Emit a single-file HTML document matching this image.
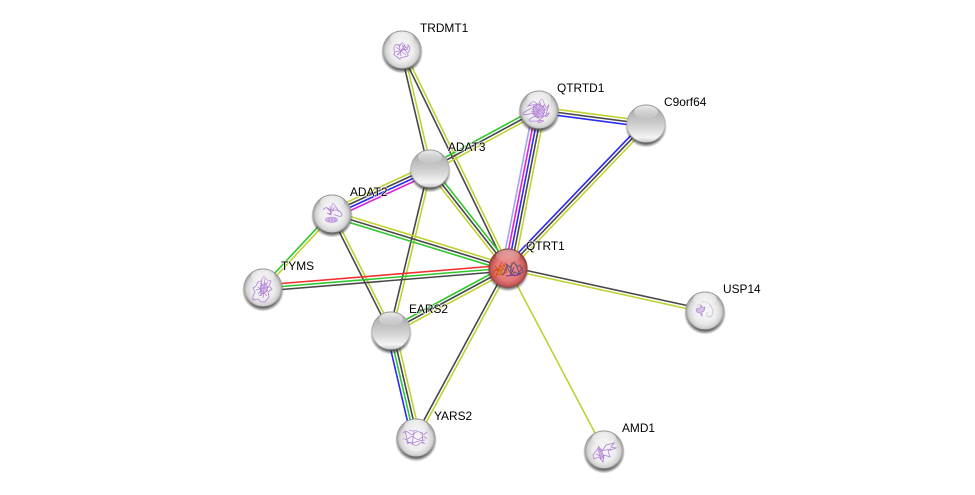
<!DOCTYPE html>
<html>
<head>
<meta charset="utf-8">
<style>
html,body{margin:0;padding:0;background:#fff;width:975px;height:495px;overflow:hidden}
svg{display:block}
text{font-family:"Liberation Sans",Arial,sans-serif;font-size:11.9px;fill:#000;paint-order:stroke;stroke:rgba(255,255,255,.7);stroke-width:1.6px;stroke-linejoin:round}
.k{stroke:#484848}.y{stroke:#c0d231}.g{stroke:#2fc72f}.b{stroke:#2a2af0}.m{stroke:#e020d8}.l{stroke:#a4a4f4}.r{stroke:#f53030}
#e line{stroke-width:1.6;fill:none}
.p{fill:none;stroke:#b080d4;stroke-width:.8;filter:url(#bl)}
.f{fill:#c49ce0;fill-opacity:.6;stroke:#a878cc;stroke-width:.6;filter:url(#bl)}
</style>
</head>
<body>
<svg width="975" height="495" viewBox="0 0 975 495" xmlns="http://www.w3.org/2000/svg">
<defs>
<filter id="bl" x="-20%" y="-20%" width="140%" height="140%"><feGaussianBlur stdDeviation=".3"/></filter>
<radialGradient id="gw" cx="50%" cy="52%" r="52%">
<stop offset="0" stop-color="#f8f8f8"/><stop offset=".55" stop-color="#ededed"/><stop offset=".8" stop-color="#d4d4d4"/><stop offset=".93" stop-color="#a4a4a4"/><stop offset="1" stop-color="#777"/>
</radialGradient>
<linearGradient id="ge" x1="0" y1="0" x2="0" y2="1">
<stop offset="0" stop-color="#9a9a9a"/><stop offset=".3" stop-color="#bcbcbc"/><stop offset=".55" stop-color="#d2d2d2"/><stop offset=".85" stop-color="#f4f4f4"/><stop offset=".95" stop-color="#cfcfcf"/><stop offset="1" stop-color="#888"/>
</linearGradient>
<radialGradient id="gr" cx="50%" cy="52%" r="52%">
<stop offset="0" stop-color="#ef9090"/><stop offset=".6" stop-color="#e27878"/><stop offset=".82" stop-color="#c85a5a"/><stop offset=".94" stop-color="#9c3c3c"/><stop offset="1" stop-color="#702222"/>
</radialGradient>
<linearGradient id="hl" x1="0" y1="0" x2="0" y2="1">
<stop offset="0" stop-color="#fff" stop-opacity=".8"/><stop offset="1" stop-color="#fff" stop-opacity=".05"/>
</linearGradient>
<linearGradient id="rim" x1="0" y1="0" x2="0" y2="1">
<stop offset="0" stop-color="#999"/><stop offset=".6" stop-color="#aaa" stop-opacity=".5"/><stop offset="1" stop-color="#666"/>
</linearGradient>
<radialGradient id="sh" cx="50%" cy="50%" r="50%">
<stop offset=".82" stop-color="#222" stop-opacity=".7"/><stop offset="1" stop-color="#333" stop-opacity="0"/>
</radialGradient>
<g id="w">
<circle cx="0" cy="2.5" r="21" fill="url(#sh)"/>
<circle r="19.5" fill="url(#gw)"/>
<circle r="19" fill="none" stroke="url(#rim)" stroke-width="1"/>
</g>
<g id="h"><ellipse cx="0" cy="-12" rx="12" ry="6.5" fill="url(#hl)"/></g>
<g id="n">
<circle cx="0" cy="2.5" r="21" fill="url(#sh)"/>
<circle r="19.5" fill="url(#ge)"/>
<circle r="19" fill="none" stroke="url(#rim)" stroke-width="1"/>
<ellipse cx="0" cy="-12" rx="12" ry="6.5" fill="url(#hl)"/>
</g>
</defs>

<g id="e">
<line class="k" x1="400.5" y1="50.3" x2="428.5" y2="169.3"/>
<line class="y" x1="403.5" y1="49.7" x2="431.5" y2="168.7"/>
<line class="k" x1="400.65" y1="50.66" x2="506.65" y2="268.66"/>
<line class="y" x1="403.35" y1="49.34" x2="509.35" y2="267.34"/>
<line class="g" x1="428.57" y1="166.36" x2="537.57" y2="107.36"/>
<line class="k" x1="430" y1="169" x2="539" y2="110"/>
<line class="y" x1="431.43" y1="171.64" x2="540.43" y2="112.64"/>
<line class="y" x1="539.39" y1="107.03" x2="646.39" y2="121.03"/>
<line class="k" x1="539" y1="110" x2="646" y2="124"/>
<line class="b" x1="538.61" y1="112.97" x2="645.61" y2="126.97"/>
<line class="b" x1="643.83" y1="121.92" x2="505.83" y2="265.92"/>
<line class="k" x1="646" y1="124" x2="508" y2="268"/>
<line class="y" x1="648.17" y1="126.08" x2="510.17" y2="270.08"/>
<line class="l" x1="533.11" y1="108.84" x2="502.11" y2="266.84"/>
<line class="m" x1="536.06" y1="109.42" x2="505.06" y2="267.42"/>
<line class="b" x1="539" y1="110" x2="508" y2="268"/>
<line class="k" x1="541.94" y1="110.58" x2="510.94" y2="268.58"/>
<line class="y" x1="544.89" y1="111.16" x2="513.89" y2="269.16"/>
<line class="y" x1="428.12" y1="164.91" x2="330.12" y2="209.91"/>
<line class="k" x1="429.37" y1="167.64" x2="331.37" y2="212.64"/>
<line class="b" x1="430.63" y1="170.36" x2="332.63" y2="215.36"/>
<line class="m" x1="431.88" y1="173.09" x2="333.88" y2="218.09"/>
<line class="g" x1="432.36" y1="167.14" x2="510.36" y2="266.14"/>
<line class="k" x1="430" y1="169" x2="508" y2="268"/>
<line class="y" x1="427.64" y1="170.86" x2="505.64" y2="269.86"/>
<line class="k" x1="428.54" y1="168.65" x2="389.54" y2="330.65"/>
<line class="y" x1="431.46" y1="169.35" x2="392.46" y2="331.35"/>
<line class="y" x1="332.88" y1="211.13" x2="508.88" y2="265.13"/>
<line class="k" x1="332" y1="214" x2="508" y2="268"/>
<line class="g" x1="331.12" y1="216.87" x2="507.12" y2="270.87"/>
<line class="g" x1="330.9" y1="212.98" x2="261.9" y2="286.98"/>
<line class="y" x1="333.1" y1="215.02" x2="264.1" y2="289.02"/>
<line class="k" x1="330.66" y1="214.68" x2="389.66" y2="331.68"/>
<line class="y" x1="333.34" y1="213.32" x2="392.34" y2="330.32"/>
<line class="r" x1="262.76" y1="285.01" x2="507.76" y2="265.01"/>
<line class="g" x1="263" y1="288" x2="508" y2="268"/>
<line class="k" x1="263.24" y1="290.99" x2="508.24" y2="270.99"/>
<line class="g" x1="389.58" y1="328.36" x2="506.58" y2="265.36"/>
<line class="k" x1="391" y1="331" x2="508" y2="268"/>
<line class="y" x1="392.42" y1="333.64" x2="509.42" y2="270.64"/>
<line class="b" x1="386.62" y1="332.02" x2="411.62" y2="439.02"/>
<line class="g" x1="389.54" y1="331.34" x2="414.54" y2="438.34"/>
<line class="k" x1="392.46" y1="330.66" x2="417.46" y2="437.66"/>
<line class="y" x1="395.38" y1="329.98" x2="420.38" y2="436.98"/>
<line class="k" x1="414.68" y1="437.28" x2="506.68" y2="267.28"/>
<line class="y" x1="417.32" y1="438.72" x2="509.32" y2="268.72"/>
<line class="k" x1="508.32" y1="266.53" x2="705.32" y2="309.53"/>
<line class="y" x1="507.68" y1="269.47" x2="704.68" y2="312.47"/>
<line class="y" x1="508" y1="268" x2="604" y2="450"/>
</g>

<g transform="translate(402,50)"><use href="#w"/>
<path class="p" d="M-8,-3 q2,-4 4,-2 t3,-1 t4,2 t3,-1 q3,3 1,6 t-1,4 t-4,2 t-4,2 t-3,-2 t-3,-3 t0,-4 z M-6,-3 l10,8 M-3,-6 l2,12 M3,-5 l-7,10 M-7,2 l13,-3 M-5,5 l9,-8 M0,-5 l5,8"/><use href="#h"/></g>
<g transform="translate(539,110)"><use href="#w"/>
<path class="p" d="M-8,-7 q3,-3 5,0 t4,-2 t4,2 t4,3 t-1,5 t1,4 t-5,2 t-2,5 t-5,-1 t-3,-4 t-4,-3 t1,-5 t-2,-3 z M-6,-4 l11,8 M-3,-7 l3,16 M5,-5 l-9,12 M-8,2 l16,-3 M-6,5 l11,-9 M0,-6 l6,9 M-4,-1 l8,8 M-7,-1 l7,9 M2,-8 l-5,15"/><path class="f" d="M-5,-4 l6,-2 l5,5 l-2,7 l-6,2 l-4,-5 z"/><use href="#h"/></g>
<use href="#n" x="646" y="124"/>
<use href="#n" x="430" y="169"/>
<g transform="translate(332,214)"><use href="#w"/>
<path class="p" d="M-9,-4 q3,-4 6,-1 t3,-3 t4,1 t2,3 M-6,-7 l6,6 M-2,-8 l1,8 M3,-7 l-6,8 M0,-3 q4,-2 7,0 t3,4 t-4,1 t-4,-2 M-5,-1 l5,2"/><path class="f" d="M-5,4 q4,-2 9,0 q3,2 0,3.5 q-4,2 -9,0 q-3,-2 0,-3.5 z"/><path class="p" d="M-3,4 l0,4 M0,3.5 l0,5 M3,4 l0,4"/><use href="#h"/></g>
<g transform="translate(263,288)"><use href="#w"/>
<path class="p" d="M1,-12 l3,4 l4,1 l-2,5 l3,3 l-4,3 l1,5 l-4,5 l-4,0 l-3,-3 l-5,1 l0,-4 l2,-4 l-2,-4 l3,-2 l2,-4 l3,-1 z M-3,-5 l8,8 M-1,-10 l-1,18 M5,-6 l-10,12 M-7,2 l13,-3 M-4,8 l8,-5 M-5,-1 l9,9 M2,-10 l-2,20"/><path class="f" d="M-3,-2 l5,-3 l3,4 l-2,5 l-5,2 z"/><use href="#h"/></g>
<g transform="translate(508,268)"><circle cx="0" cy="2.5" r="21" fill="url(#sh)"/><circle r="19.5" fill="url(#gr)"/>
<path d="M-16,7 l5,-7 l4,3 l3,-7 l3,8 l-5,3 l-4,-1 l-3,3 z M-13,-2 l8,9 M-6,-6 l-6,13 M-9,-3 l7,6 M-15,3 l10,-2" fill="none" stroke="#d8501c" stroke-width="1" filter="url(#bl)"/>
<path d="M-2,-4 l4,3 l4,-5 l3,5 l3,-2 l3,7 l-5,2 l-3,-2 l-3,3 l-3,-4 z M0,-3 l6,8 M4,-5 l-2,10 M8,-4 l3,9" fill="none" stroke="#6a5a68" stroke-width="1" filter="url(#bl)"/>
<path d="M-5,7 l5,-10 M2,8 l4,-9 M9,7 l6,-8 M-2,8 l9,-1 M6,8 l7,-2" stroke="#7a3a90" stroke-width="1" fill="none" filter="url(#bl)"/>
<path d="M-10,5 l5,-6 M-8,7 l3,-5" stroke="#a8a020" stroke-width=".8" fill="none"/>
<ellipse cx="0" cy="-12" rx="12" ry="6.5" fill="url(#hl)" opacity=".6"/></g>
<use href="#n" x="391" y="331"/>
<g transform="translate(705,311)"><use href="#w"/>
<path class="f" d="M-9,-2 l4,-1 l1,-3 l2,3 l2,-1 l-1,4 l-2,1 l0,4 l-2,-3 l-3,-1 z"/>
<path d="M-4,-9 q6,-1 8,2 q4,4 4,8 q-1,5 -4,5 q-3,0 -2,-5 M-7,-4 q-1,-3 3,-3" fill="none" stroke="#c8b8d8" stroke-width=".7"/><use href="#h"/></g>
<g transform="translate(416,438)"><use href="#w"/>
<path class="p" d="M-13,-5 q3,-3 6,0 t6,0 t6,0 t6,-1 M-13,0 q3,3 6,0 t6,0 t6,0 t6,1 M-9,6 q3,-3 6,0 t6,0 t6,0 M-11,-7 l3,13 M-2,-7 l-2,14 M6,-6 l1,12 M-7,-8 q4,2 8,0 M-10,3 q5,3 10,1 t9,-2"/><use href="#h"/></g>
<g transform="translate(604,450)"><use href="#w"/>
<path class="p" d="M-11,5 l6,-8 l3,4 l4,-6 l8,-2 l-3,4 l5,1 l-8,3 l2,6 l-6,-2 l-1,7 l-4,-5 l-5,2 z M-6,-4 l5,12 M-4,1 l11,-2 M-8,4 l7,3"/><path class="f" d="M-6,0 l3,-1 l3,8 l-3,2 z"/><use href="#h"/></g>

<text x="420" y="32">TRDMT1</text>
<text x="557" y="92">QTRTD1</text>
<text x="664" y="106">C9orf64</text>
<text x="448" y="151">ADAT3</text>
<text x="350" y="196">ADAT2</text>
<text x="281" y="270">TYMS</text>
<text x="526" y="250">QTRT1</text>
<text x="409" y="313">EARS2</text>
<text x="723" y="293">USP14</text>
<text x="434" y="420">YARS2</text>
<text x="622" y="432">AMD1</text>
</svg>
</body>
</html>
